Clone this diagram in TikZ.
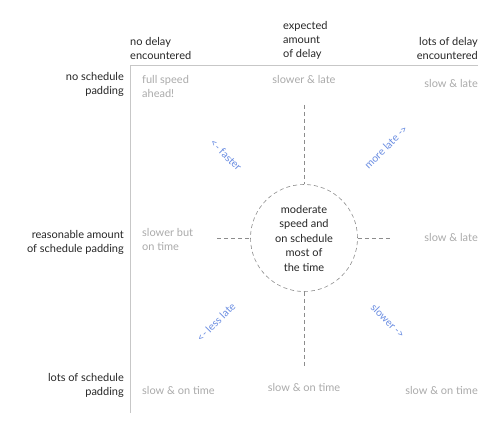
\documentclass[tikz,border=0pt]{standalone}
\usepackage{fontspec}
\setmainfont{Lato}
\definecolor{hintblue}{RGB}{105,140,225}
\definecolor{cellgrey}{RGB}{170,170,170}
\begin{document}
\begin{tikzpicture}[x=1pt,y=-1pt,
  hdr/.style={font=\fontsize{11}{14}\selectfont, text=black!85, inner sep=0pt},
  cell/.style={font=\fontsize{11}{14}\selectfont, text=cellgrey, inner sep=0pt},
  hint/.style={font=\fontsize{10.5}{12}\selectfont, text=hintblue, inner sep=0pt},
  axis/.style={draw=black!22, line width=0.8pt},
  dash line/.style={draw=black!45, dashed, dash pattern=on 4pt off 3pt, line width=0.6pt}]
\useasboundingbox (0,0) rectangle (500,435);
% axes
\coordinate (o) at (130,65);
\coordinate (xe) at (478,65);
\coordinate (ye) at (130,413);
\draw[axis] (xe) -- (o) -- (ye);
% column headers
\node[hdr, align=left, anchor=south west] (c1) at (130,60) {no delay\\encountered};
\node[hdr, align=left, anchor=south west] (c2) at (283,60) {expected\\amount\\of delay};
\node[hdr, align=right, anchor=south east] (c3) at (478,60) {lots of delay\\encountered};
% row headers
\node[hdr, align=right, anchor=east] (r1) at (124,84) {no schedule\\padding};
\node[hdr, align=right, anchor=east] (r2) at (124,242) {reasonable amount\\of schedule padding};
\node[hdr, align=right, anchor=east] (r3) at (124,385) {lots of schedule\\padding};
% cells
\node[cell, align=left, anchor=west] (a11) at (142,86) {full speed\\ahead!};
\node[cell] (a12) at (304,79) {slower \& late};
\node[cell, anchor=east] (a13) at (478,83) {slow \& late};
\node[cell, align=left, anchor=west] (a21) at (142,239) {slower but\\on time};
\node[cell, anchor=east] (a23) at (478,237) {slow \& late};
\node[cell, anchor=west] (a31) at (142,390) {slow \& on time};
\node[cell] (a32) at (304,387) {slow \& on time};
\node[cell, anchor=east] (a33) at (478,390) {slow \& on time};
% center circle
\node[circle, dashed, draw=black!45, dash pattern=on 4pt off 3pt, line width=0.6pt,
  minimum size=107pt, inner sep=0pt, align=center,
  font=\fontsize{11}{14.5}\selectfont, text=black!85] (mid) at (304,238)
  {moderate\\speed and\\on schedule\\most of\\the time};
% dashed spokes
\coordinate (up) at (304,105);
\coordinate (dn) at (304,368);
\coordinate (lf) at (217,238);
\coordinate (rt) at (392,238);
\draw[dash line] (up) -- (mid.north);
\draw[dash line] (mid.south) -- (dn);
\draw[dash line] (lf) -- (mid.west);
\draw[dash line] (mid.east) -- (rt);
% diagonal hints
\node[hint, rotate=-45] (h1) at (226,155) {<- faster};
\node[hint, rotate=45] (h2) at (386,147) {more late ->};
\node[hint, rotate=45] (h3) at (216,322) {<- less late};
\node[hint, rotate=-45] (h4) at (388,321) {slower ->};
\end{tikzpicture}
\end{document}
